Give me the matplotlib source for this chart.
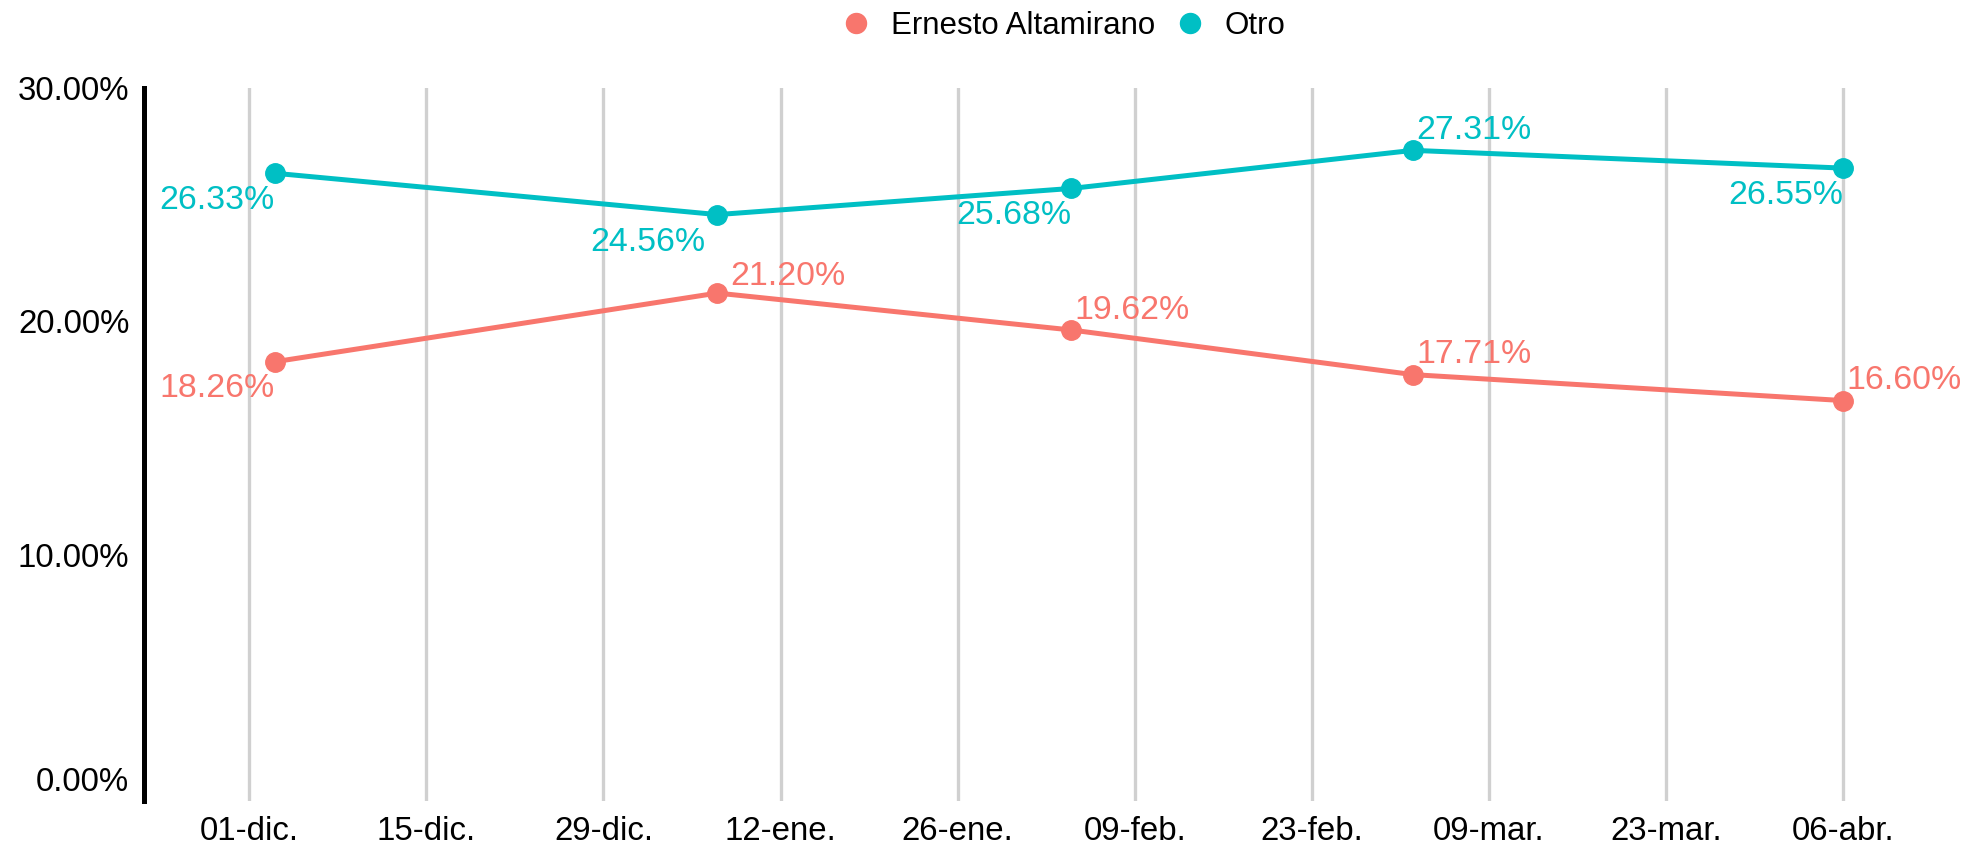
import matplotlib
matplotlib.use("Agg")
import matplotlib.pyplot as plt
import matplotlib.dates as mdates
import matplotlib.transforms as mtransforms
from matplotlib.lines import Line2D
import datetime as dt

plt.rcParams['font.family'] = ['Liberation Sans', 'DejaVu Sans']

# ---- data ----
dates = ['2025-12-03', '2026-01-07', '2026-02-04', '2026-03-03', '2026-04-06']
series_names = ['Ernesto Altamirano', 'Otro']
ernesto = [18.26, 21.20, 19.62, 17.71, 16.60]
otro = [26.33, 24.56, 25.68, 27.31, 26.55]
tick_dates = ['2025-12-01', '2025-12-15', '2025-12-29', '2026-01-12', '2026-01-26',
              '2026-02-09', '2026-02-23', '2026-03-09', '2026-03-23', '2026-04-06']
tick_labels = ['01-dic.', '15-dic.', '29-dic.', '12-ene.', '26-ene.',
               '09-feb.', '23-feb.', '09-mar.', '23-mar.', '06-abr.']
y_ticks = [0, 10, 20, 30]
y_tick_labels = ['0.00%', '10.00%', '20.00%', '30.00%']

# ---- style ----
colors = ['#F8766D', '#00BFC4']
# label placement per point: (dx px, baseline dy px, ha)
below = (0, -35.5, 'right')
above = (3, 11.5, 'left')
placements = [
    [below, (13, 8, 'left'), above, above, above],
    [below, (-12, -36.5, 'right'), below, above, below],
]

W, H = 1964, 843
fig = plt.figure(figsize=(W / 100, H / 100), dpi=100)
left_px, right_px = 143.5, 1948.8
top_px, bot_px = 87.5, 801
ax = fig.add_axes([left_px / W, 1 - bot_px / H, (right_px - left_px) / W, (bot_px - top_px) / H])

xd = [mdates.date2num(dt.datetime.strptime(d, '%Y-%m-%d')) for d in dates]
td = [mdates.date2num(dt.datetime.strptime(d, '%Y-%m-%d')) for d in tick_dates]

for i, vals in enumerate([ernesto, otro]):
    ax.plot(xd, vals, color=colors[i], lw=3.6, marker='o', ms=14,
            solid_capstyle='round', zorder=3, clip_on=False)
    for j, v in enumerate(vals):
        dx, dy, ha = placements[i][j]
        ax.annotate(f'{v:.2f}%', (xd[j], v), xytext=(dx, dy), textcoords='offset pixels',
                    ha=ha, va='baseline', fontsize=24.4, color=colors[i], zorder=4,
                    annotation_clip=False)

ax.set_xlim(td[0] - 8.36, td[-1] + 8.36)
ax.set_ylim(-0.54, 30)
ax.set_xticks(td)
ax.set_xticklabels(tick_labels)
ax.set_yticks(y_ticks)
ax.set_yticklabels(y_tick_labels)
ax.tick_params(axis='both', length=0, labelsize=23.8, colors='black')
ax.tick_params(axis='y', pad=10.2)
ax.tick_params(axis='x', pad=10.5)
ax.grid(axis='x', color='#d0d0d0', lw=2.4, zorder=0)
ax.set_axisbelow(True)
for s in ['top', 'right', 'bottom']:
    ax.spines[s].set_visible(False)
ax.spines['left'].set_linewidth(3.6)
ax.spines['left'].set_color('black')

# the 0.00% label sits slightly above its tick in the reference
zero_lab = ax.yaxis.get_major_ticks()[0].label1
zero_lab.set_transform(zero_lab.get_transform() +
                       mtransforms.ScaledTranslation(0, 9 / 100, fig.dpi_scale_trans))

handles = [Line2D([], [], color=c, marker='o', ls='none', ms=14.4) for c in colors]
fig.legend(handles, series_names, loc='center', bbox_to_anchor=(1066 / W, 1 - 26 / H),
           ncol=2, frameon=False, handlelength=0.6, handletextpad=0.8,
           columnspacing=0.82, fontsize=22.5)

fig.savefig('out.png', dpi=100)
